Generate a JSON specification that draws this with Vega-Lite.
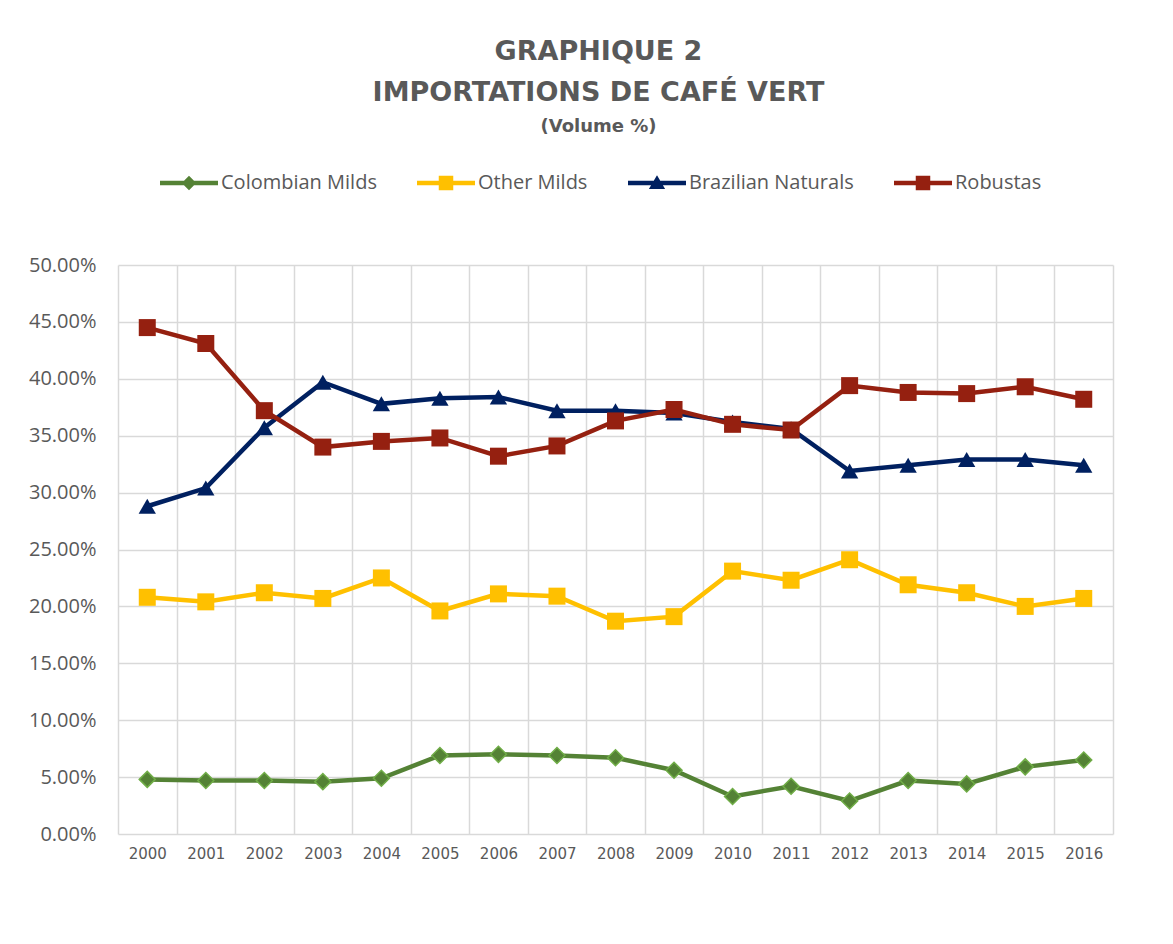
{
  "$schema": "https://vega.github.io/schema/vega-lite/v6.json",
  "autosize": "none",
  "width": 995,
  "height": 569,
  "padding": {"left": 118, "top": 265, "right": 60, "bottom": 110},
  "background": "white",
  "config": {"view": {"stroke": null}},
  "title": {
    "text": ["GRAPHIQUE 2", "IMPORTATIONS DE CAFÉ VERT"],
    "subtitle": "(Volume %)",
    "anchor": "middle",
    "frame": "group",
    "dx": -17,
    "offset": 17,
    "font": "DejaVu Sans",
    "fontSize": 27,
    "fontWeight": "bold",
    "color": "#595959",
    "lineHeight": 41,
    "subtitleFont": "DejaVu Sans",
    "subtitleFontSize": 18,
    "subtitleFontWeight": "bold",
    "subtitleColor": "#595959",
    "subtitlePadding": 11
  },
  "data": {
    "values": [
      {"year": "2000", "series": "Colombian Milds", "value": 4.8},
      {"year": "2001", "series": "Colombian Milds", "value": 4.7},
      {"year": "2002", "series": "Colombian Milds", "value": 4.7},
      {"year": "2003", "series": "Colombian Milds", "value": 4.6},
      {"year": "2004", "series": "Colombian Milds", "value": 4.9},
      {"year": "2005", "series": "Colombian Milds", "value": 6.9},
      {"year": "2006", "series": "Colombian Milds", "value": 7.0},
      {"year": "2007", "series": "Colombian Milds", "value": 6.9},
      {"year": "2008", "series": "Colombian Milds", "value": 6.7},
      {"year": "2009", "series": "Colombian Milds", "value": 5.6},
      {"year": "2010", "series": "Colombian Milds", "value": 3.3},
      {"year": "2011", "series": "Colombian Milds", "value": 4.2},
      {"year": "2012", "series": "Colombian Milds", "value": 2.9},
      {"year": "2013", "series": "Colombian Milds", "value": 4.7},
      {"year": "2014", "series": "Colombian Milds", "value": 4.4},
      {"year": "2015", "series": "Colombian Milds", "value": 5.9},
      {"year": "2016", "series": "Colombian Milds", "value": 6.5},
      {"year": "2000", "series": "Other Milds", "value": 20.8},
      {"year": "2001", "series": "Other Milds", "value": 20.4},
      {"year": "2002", "series": "Other Milds", "value": 21.2},
      {"year": "2003", "series": "Other Milds", "value": 20.7},
      {"year": "2004", "series": "Other Milds", "value": 22.5},
      {"year": "2005", "series": "Other Milds", "value": 19.6},
      {"year": "2006", "series": "Other Milds", "value": 21.1},
      {"year": "2007", "series": "Other Milds", "value": 20.9},
      {"year": "2008", "series": "Other Milds", "value": 18.7},
      {"year": "2009", "series": "Other Milds", "value": 19.1},
      {"year": "2010", "series": "Other Milds", "value": 23.1},
      {"year": "2011", "series": "Other Milds", "value": 22.3},
      {"year": "2012", "series": "Other Milds", "value": 24.1},
      {"year": "2013", "series": "Other Milds", "value": 21.9},
      {"year": "2014", "series": "Other Milds", "value": 21.2},
      {"year": "2015", "series": "Other Milds", "value": 20.0},
      {"year": "2016", "series": "Other Milds", "value": 20.7},
      {"year": "2000", "series": "Brazilian Naturals", "value": 28.8},
      {"year": "2001", "series": "Brazilian Naturals", "value": 30.4},
      {"year": "2002", "series": "Brazilian Naturals", "value": 35.7},
      {"year": "2003", "series": "Brazilian Naturals", "value": 39.7},
      {"year": "2004", "series": "Brazilian Naturals", "value": 37.8},
      {"year": "2005", "series": "Brazilian Naturals", "value": 38.3},
      {"year": "2006", "series": "Brazilian Naturals", "value": 38.4},
      {"year": "2007", "series": "Brazilian Naturals", "value": 37.2},
      {"year": "2008", "series": "Brazilian Naturals", "value": 37.2},
      {"year": "2009", "series": "Brazilian Naturals", "value": 37.0},
      {"year": "2010", "series": "Brazilian Naturals", "value": 36.2},
      {"year": "2011", "series": "Brazilian Naturals", "value": 35.6},
      {"year": "2012", "series": "Brazilian Naturals", "value": 31.9},
      {"year": "2013", "series": "Brazilian Naturals", "value": 32.4},
      {"year": "2014", "series": "Brazilian Naturals", "value": 32.9},
      {"year": "2015", "series": "Brazilian Naturals", "value": 32.9},
      {"year": "2016", "series": "Brazilian Naturals", "value": 32.4},
      {"year": "2000", "series": "Robustas", "value": 44.5},
      {"year": "2001", "series": "Robustas", "value": 43.1},
      {"year": "2002", "series": "Robustas", "value": 37.2},
      {"year": "2003", "series": "Robustas", "value": 34.0},
      {"year": "2004", "series": "Robustas", "value": 34.5},
      {"year": "2005", "series": "Robustas", "value": 34.8},
      {"year": "2006", "series": "Robustas", "value": 33.2},
      {"year": "2007", "series": "Robustas", "value": 34.1},
      {"year": "2008", "series": "Robustas", "value": 36.3},
      {"year": "2009", "series": "Robustas", "value": 37.3},
      {"year": "2010", "series": "Robustas", "value": 36.0},
      {"year": "2011", "series": "Robustas", "value": 35.5},
      {"year": "2012", "series": "Robustas", "value": 39.4},
      {"year": "2013", "series": "Robustas", "value": 38.8},
      {"year": "2014", "series": "Robustas", "value": 38.7},
      {"year": "2015", "series": "Robustas", "value": 39.3},
      {"year": "2016", "series": "Robustas", "value": 38.2}
    ]
  },
  "encoding": {
    "x": {
      "field": "year",
      "type": "ordinal",
      "scale": {"type": "band", "paddingInner": 0, "paddingOuter": 0},
      "axis": {
        "title": null,
        "labelAngle": 0,
        "tickBand": "extent",
        "ticks": false,
        "domain": false,
        "grid": true,
        "gridColor": "#d9d9d9",
        "gridWidth": 1.5,
        "labelFont": "DejaVu Sans",
        "labelFontSize": 15,
        "labelColor": "#595959",
        "labelPadding": 12
      }
    },
    "y": {
      "field": "value",
      "type": "quantitative",
      "scale": {"domain": [0, 50], "nice": false, "zero": true},
      "axis": {
        "title": null,
        "values": [0, 5, 10, 15, 20, 25, 30, 35, 40, 45, 50],
        "labelExpr": "format(datum.value, '.2f') + '%'",
        "ticks": false,
        "domain": false,
        "grid": true,
        "gridColor": "#d9d9d9",
        "gridWidth": 1.5,
        "labelFont": "Open Sans",
        "labelFontSize": 20,
        "labelColor": "#595959",
        "labelPadding": 22
      }
    },
    "color": {
      "field": "series",
      "type": "nominal",
      "scale": {
        "domain": ["Colombian Milds", "Other Milds", "Brazilian Naturals", "Robustas"],
        "range": ["#548235", "#FFC000", "#002060", "#952010"]
      },
      "legend": {
        "title": null,
        "orient": "none",
        "direction": "horizontal",
        "legendX": 42,
        "legendY": -111,
        "symbolSize": 3364,
        "labelFont": "Open Sans",
        "labelFontSize": 20,
        "labelColor": "#595959",
        "labelOffset": 3,
        "labelLimit": 400,
        "columnPadding": 40,
        "encode": {
          "symbols": {
            "update": {
              "shape": {"signal": "datum.value === 'Colombian Milds' ? 'M-1,-0.075H1V0.075H-1Z M0,-0.25L0.25,0L0,0.25L-0.25,0Z' : datum.value === 'Brazilian Naturals' ? 'M-1,-0.075H1V0.075H-1Z M0,-0.27L0.28,0.21H-0.28Z' : 'M-1,-0.075H1V0.075H-1Z M-0.25,-0.25H0.25V0.25H-0.25Z'"},
              "size": {"value": 3364},
              "fill": {"scale": "color", "field": "value"},
              "stroke": {"value": "transparent"},
              "strokeWidth": {"value": 0},
              "opacity": {"value": 1},
              "fillOpacity": {"value": 1}
            }
          }
        }
      }
    }
  },
  "layer": [
    {
      "mark": {"type": "line", "strokeWidth": 4.5}
    },
    {
      "transform": [{"filter": "datum.series === 'Colombian Milds'"}],
      "mark": {"type": "point", "filled": true, "opacity": 1, "shape": "diamond", "size": 256, "stroke": "#70AD47", "strokeWidth": 1.5}
    },
    {
      "transform": [{"filter": "datum.series === 'Other Milds'"}],
      "mark": {"type": "point", "filled": true, "opacity": 1, "shape": "square", "size": 289}
    },
    {
      "transform": [{"filter": "datum.series === 'Brazilian Naturals'"}],
      "mark": {"type": "point", "filled": true, "opacity": 1, "shape": "triangle-up", "size": 300}
    },
    {
      "transform": [{"filter": "datum.series === 'Robustas'"}],
      "mark": {"type": "point", "filled": true, "opacity": 1, "shape": "square", "size": 289}
    }
  ]
}
